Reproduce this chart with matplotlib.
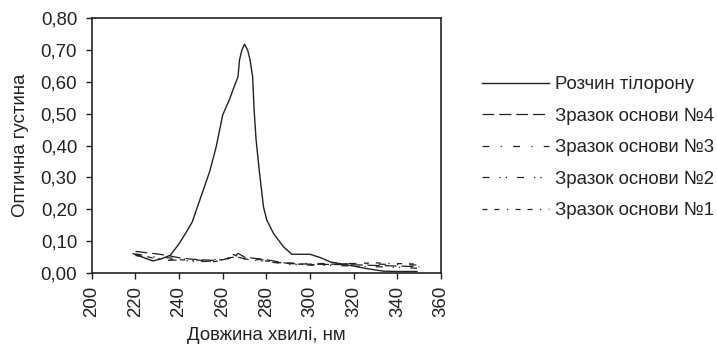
import matplotlib
matplotlib.use("Agg")
import matplotlib.pyplot as plt

plt.rcParams['font.family'] = ['Liberation Sans', 'DejaVu Sans']

# Розчин тілорону (solid)
wl_tilor = [219, 224, 228, 232, 236, 240, 243, 246, 250, 254, 257, 260, 263, 265, 267, 267.7,
            268.8, 270, 271.4, 272.5, 273.7, 274.4, 275.3, 276.9, 278.7, 280.2, 283.3, 287.9,
            291.7, 300, 305, 309.3, 318.4, 326, 333.7, 340, 349]
od_tilor = [0.061, 0.048, 0.038, 0.045, 0.056, 0.092, 0.125, 0.160, 0.239, 0.318, 0.396, 0.496,
            0.543, 0.580, 0.616, 0.669, 0.700, 0.718, 0.700, 0.670, 0.616, 0.510, 0.417, 0.312,
            0.207, 0.166, 0.124, 0.082, 0.059, 0.059, 0.048, 0.035, 0.024, 0.014, 0.006, 0.005, 0.005]

wl_base = [220, 225, 230, 235, 240, 245, 250, 255, 260, 265, 267, 270, 275, 280, 285, 290,
           300, 310, 320, 330, 340, 350]
od_base4 = [0.068, 0.064, 0.060, 0.055, 0.048, 0.044, 0.042, 0.040, 0.042, 0.050, 0.062, 0.050,
            0.046, 0.042, 0.036, 0.030, 0.028, 0.027, 0.026, 0.024, 0.022, 0.020]
od_base3 = [0.060, 0.055, 0.050, 0.048, 0.045, 0.042, 0.040, 0.042, 0.045, 0.050, 0.055, 0.048,
            0.044, 0.040, 0.035, 0.032, 0.030, 0.030, 0.030, 0.028, 0.027, 0.025]
od_base2 = [0.055, 0.050, 0.046, 0.042, 0.040, 0.038, 0.036, 0.038, 0.042, 0.046, 0.050, 0.045,
            0.040, 0.036, 0.032, 0.028, 0.025, 0.024, 0.022, 0.020, 0.018, 0.015]
od_base1 = [0.058, 0.052, 0.044, 0.040, 0.042, 0.040, 0.037, 0.035, 0.040, 0.058, 0.052, 0.044,
            0.042, 0.038, 0.034, 0.030, 0.026, 0.028, 0.030, 0.032, 0.030, 0.028]

labels = ['Розчин тілорону', 'Зразок основи №4', 'Зразок основи №3',
          'Зразок основи №2', 'Зразок основи №1']

x_ticks = [200, 220, 240, 260, 280, 300, 320, 340, 360]
y_ticks = [0.0, 0.1, 0.2, 0.3, 0.4, 0.5, 0.6, 0.7, 0.8]

FS = 13.4
col = '#222222'

fig = plt.figure(figsize=(7.17, 3.47), dpi=100)
ax = fig.add_axes([0.128, 0.213, 0.487, 0.735])

ax.plot(wl_tilor, od_tilor, color=col, lw=1.0, label=labels[0])
ax.plot(wl_base, od_base4, color=col, lw=0.9, dashes=(9.5, 4), label=labels[1])
ax.plot(wl_base, od_base3, color=col, lw=0.9, dashes=(5.5, 9, 1, 9), label=labels[2])
ax.plot(wl_base, od_base2, color=col, lw=0.9, dashes=(5.6, 8, 1, 4, 1, 8), label=labels[3])
ax.plot(wl_base, od_base1, color=col, lw=0.9, dashes=(4, 5.5, 4, 6, 1, 6), label=labels[4])

ax.set_xlim(200, 360)
ax.set_ylim(0, 0.8)
ax.set_xticks(x_ticks)
ax.set_xticklabels([str(v) for v in x_ticks], rotation=90, fontsize=FS)
ax.set_yticks(y_ticks)
ax.set_yticklabels([f'{v:.2f}'.replace('.', ',') for v in y_ticks], fontsize=FS)
ax.tick_params(direction='out', length=4, width=1, colors=col)
ax.tick_params(axis='x', pad=5)
ax.tick_params(axis='y', pad=6.5)
for s in ax.spines.values():
    s.set_linewidth(1.2)
    s.set_color(col)

ax.set_xlabel('Довжина хвилі, нм', fontsize=FS, color=col, labelpad=7)
ax.set_ylabel('Оптична густина', fontsize=FS, color=col, labelpad=8)

leg = fig.legend(loc='upper left', bbox_to_anchor=(0.672, 0.781), frameon=False,
                 fontsize=FS, handlelength=3.63, handletextpad=0.32, labelspacing=0.78,
                 borderpad=0, borderaxespad=0)
for t in leg.get_texts():
    t.set_color(col)

fig.savefig('out.png', dpi=100)
